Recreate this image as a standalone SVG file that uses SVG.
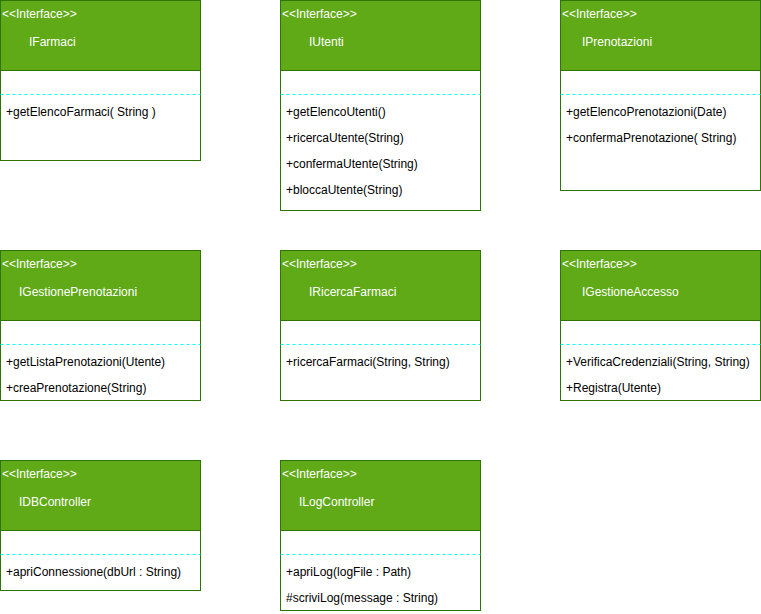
<svg xmlns="http://www.w3.org/2000/svg" width="761" height="614" viewBox="0 0 761 614">
<style>
.box{fill:#ffffff;stroke:#2D7600;stroke-width:1}
.hdr{fill:#60A917;stroke:#2D7600;stroke-width:1}
.sep{stroke:#00FFFF;stroke-width:1;stroke-dasharray:3 3;fill:none}
text{font-family:"Liberation Sans",Arial,Helvetica,sans-serif;font-size:12px}
.st{fill:#ffffff}
.nm{fill:#ffffff}
.m{fill:#000000}
</style>
<rect x="0" y="0" width="761" height="614" fill="#ffffff"/>
<g id="connectors"></g>
<g id="IFarmaci" transform="translate(0.5,0.5)">
<rect class="box" x="0" y="0" width="200" height="160"/>
<rect class="hdr" x="0" y="0" width="200" height="70"/>
<line class="sep" x1="0" y1="94" x2="200" y2="94"/>
<text class="st" x="1.5" y="17">&lt;&lt;Interface&gt;&gt;</text>
<text class="nm" x="28.5" y="45">IFarmaci</text>
<text class="m" x="5.5" y="115">+getElencoFarmaci( String )</text>
</g>
<g id="IUtenti" transform="translate(280.5,0.5)">
<rect class="box" x="0" y="0" width="200" height="210"/>
<rect class="hdr" x="0" y="0" width="200" height="70"/>
<line class="sep" x1="0" y1="94" x2="200" y2="94"/>
<text class="st" x="1.5" y="17">&lt;&lt;Interface&gt;&gt;</text>
<text class="nm" x="28.5" y="45">IUtenti</text>
<text class="m" x="5.5" y="115">+getElencoUtenti()</text>
<text class="m" x="5.5" y="141">+ricercaUtente(String)</text>
<text class="m" x="5.5" y="167">+confermaUtente(String)</text>
<text class="m" x="5.5" y="193">+bloccaUtente(String)</text>
</g>
<g id="IPrenotazioni" transform="translate(560.5,0.5)">
<rect class="box" x="0" y="0" width="200" height="190"/>
<rect class="hdr" x="0" y="0" width="200" height="70"/>
<line class="sep" x1="0" y1="94" x2="200" y2="94"/>
<text class="st" x="1.5" y="17">&lt;&lt;Interface&gt;&gt;</text>
<text class="nm" x="21.5" y="45">IPrenotazioni</text>
<text class="m" x="5.5" y="115">+getElencoPrenotazioni(Date)</text>
<text class="m" x="5.5" y="141">+confermaPrenotazione( String)</text>
</g>
<g id="IGestionePrenotazioni" transform="translate(0.5,250.5)">
<rect class="box" x="0" y="0" width="200" height="150"/>
<rect class="hdr" x="0" y="0" width="200" height="70"/>
<line class="sep" x1="0" y1="94" x2="200" y2="94"/>
<text class="st" x="1.5" y="17">&lt;&lt;Interface&gt;&gt;</text>
<text class="nm" x="18.5" y="45">IGestionePrenotazioni</text>
<text class="m" x="5.5" y="115">+getListaPrenotazioni(Utente)</text>
<text class="m" x="5.5" y="141">+creaPrenotazione(String)</text>
</g>
<g id="IRicercaFarmaci" transform="translate(280.5,250.5)">
<rect class="box" x="0" y="0" width="200" height="150"/>
<rect class="hdr" x="0" y="0" width="200" height="70"/>
<line class="sep" x1="0" y1="94" x2="200" y2="94"/>
<text class="st" x="1.5" y="17">&lt;&lt;Interface&gt;&gt;</text>
<text class="nm" x="28.5" y="45">IRicercaFarmaci</text>
<text class="m" x="5.5" y="115">+ricercaFarmaci(String, String)</text>
</g>
<g id="IGestioneAccesso" transform="translate(560.5,250.5)">
<rect class="box" x="0" y="0" width="200" height="150"/>
<rect class="hdr" x="0" y="0" width="200" height="70"/>
<line class="sep" x1="0" y1="94" x2="200" y2="94"/>
<text class="st" x="1.5" y="17">&lt;&lt;Interface&gt;&gt;</text>
<text class="nm" x="21.5" y="45">IGestioneAccesso</text>
<text class="m" x="5.5" y="115">+VerificaCredenziali(String, String)</text>
<text class="m" x="5.5" y="141">+Registra(Utente)</text>
</g>
<g id="IDBController" transform="translate(0.5,460.5)">
<rect class="box" x="0" y="0" width="200" height="130"/>
<rect class="hdr" x="0" y="0" width="200" height="70"/>
<line class="sep" x1="0" y1="94" x2="200" y2="94"/>
<text class="st" x="1.5" y="17">&lt;&lt;Interface&gt;&gt;</text>
<text class="nm" x="18.5" y="45">IDBController</text>
<text class="m" x="5.5" y="115">+apriConnessione(dbUrl : String)</text>
</g>
<g id="ILogController" transform="translate(280.5,460.5)">
<rect class="box" x="0" y="0" width="200" height="150"/>
<rect class="hdr" x="0" y="0" width="200" height="70"/>
<line class="sep" x1="0" y1="94" x2="200" y2="94"/>
<text class="st" x="1.5" y="17">&lt;&lt;Interface&gt;&gt;</text>
<text class="nm" x="18.5" y="45">ILogController</text>
<text class="m" x="5.5" y="115">+apriLog(logFile : Path)</text>
<text class="m" x="5.5" y="141">#scriviLog(message : String)</text>
</g>
</svg>
